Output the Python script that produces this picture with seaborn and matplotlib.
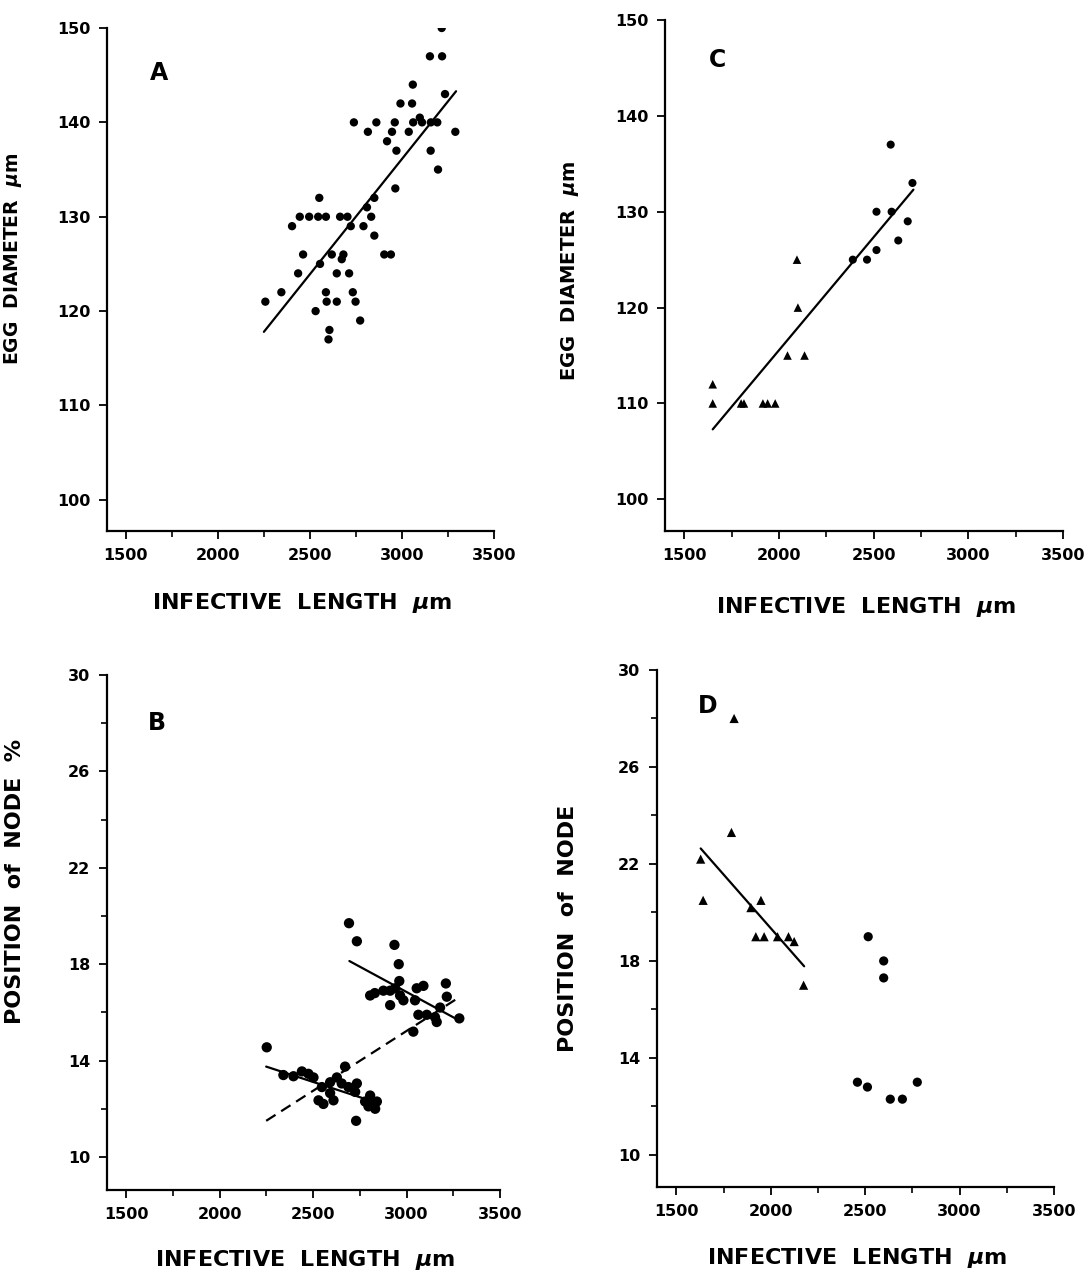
import matplotlib
matplotlib.use("Agg")
import matplotlib.pyplot as plt
from matplotlib.ticker import MultipleLocator, FixedLocator
import seaborn as sns

# Panel A - egg diameter vs infective length (circles)
a_length = [3216, 3152, 3218, 3059, 2992, 3055, 3234, 2739, 2861, 2961, 3061,
            3097, 3109, 3157, 3192, 2815, 2946, 3037, 3290, 2919, 2970, 3156,
            3196, 2964, 2850, 2810, 2833, 2551, 2445, 2496, 2545, 2587, 2664,
            2704, 2403, 2722, 2791, 2850, 2463, 2619, 2682, 2673, 2904, 2940,
            2555, 2436, 2646, 2713, 2345, 2587, 2733, 2258, 2591, 2646, 2748,
            2531, 2773, 2606, 2601]
a_egg = [150, 147, 147, 144, 142, 142, 143, 140, 140, 140, 140,
         140.5, 140, 140, 140, 139, 139, 139, 139, 138, 137, 137,
         135, 133, 132, 131, 130, 132, 130, 130, 130, 130, 130,
         130, 129, 129, 129, 128, 126, 126, 126, 125.5, 126, 126,
         125, 124, 124, 124, 122, 122, 122, 121, 121, 121, 121,
         120, 119, 118, 117]
a_fit_x = [2250, 3294]
a_fit_y = [117.8, 143.3]

# Panel B - position of node vs infective length
b_upper_x = [2692, 2734, 2935, 2958, 2961, 3210, 2805, 2830, 2876, 2912, 2939,
             2965, 2983, 2912, 3054, 3090, 3045, 3063, 3108, 3152, 3161, 3179,
             3215, 3282, 3036]
b_upper_y = [19.7, 18.95, 18.8, 18.0, 17.3, 17.2, 16.7, 16.8, 16.9, 16.9, 17.0,
             16.7, 16.5, 16.3, 17.0, 17.1, 16.5, 15.9, 15.9, 15.8, 15.6, 16.2,
             16.65, 15.75, 15.2]
b_lower_x = [2252, 2671, 2341, 2395, 2440, 2475, 2502, 2547, 2591, 2627, 2653,
             2689, 2734, 2725, 2529, 2555, 2609, 2591, 2805, 2778, 2814, 2841,
             2832, 2796, 2730]
b_lower_y = [14.55, 13.75, 13.4, 13.35, 13.55, 13.45, 13.3, 12.9, 13.1, 13.3, 13.05,
             12.9, 13.05, 12.7, 12.35, 12.2, 12.35, 12.65, 12.55, 12.3, 12.2, 12.3,
             12.0, 12.1, 11.5]
b_fit_upper_x = [2694, 3282]
b_fit_upper_y = [18.13, 15.66]
b_fit_lower_x = [2249, 2849]
b_fit_lower_y = [13.75, 12.23]
b_fit_all_x = [2249, 3286]
b_fit_all_y = [11.5, 16.65]

# Panel C - egg diameter, triangles and circles
c_tri_x = [1650, 1650, 1800, 1815, 1915, 1940, 1980, 2095, 2100, 2045, 2135]
c_tri_y = [112, 110, 110, 110, 110, 110, 110, 125, 120, 115, 115]
c_dot_x = [2390, 2465, 2515, 2515, 2595, 2590, 2630, 2680, 2705]
c_dot_y = [125, 125, 126, 130, 130, 137, 127, 129, 133]
c_fit_x = [1650, 2710]
c_fit_y = [107.3, 132.3]

# Panel D - position of node, triangles and circles
d_tri_x = [1806, 1792, 1629, 1642, 1948, 1895, 1921, 1965, 2036, 2094, 2124, 2174]
d_tri_y = [28, 23.3, 22.2, 20.5, 20.5, 20.2, 19, 19, 19, 19, 18.8, 17]
d_dot_x = [2516, 2598, 2598, 2459, 2512, 2633, 2697, 2776]
d_dot_y = [19, 18, 17.3, 13, 12.8, 12.3, 12.3, 13]
d_fit_x = [1629, 2177]
d_fit_y = [22.64, 17.78]

egg_ticks = [100, 110, 120, 130, 140, 150]
node_ticks = [10, 14, 18, 22, 26, 30]
node_minor = [12, 16, 20, 24, 28]

sns.set_theme(style="ticks")
plt.rcParams['font.family'] = ['DejaVu Sans']
plt.rcParams['font.weight'] = 'bold'
plt.rcParams['axes.labelweight'] = 'bold'
plt.rcParams['text.color'] = 'black'
plt.rcParams['axes.labelcolor'] = 'black'
plt.rcParams['xtick.color'] = 'black'
plt.rcParams['ytick.color'] = 'black'
plt.rcParams['mathtext.fontset'] = 'custom'
plt.rcParams['mathtext.it'] = 'DejaVu Sans:italic:bold'
plt.rcParams['mathtext.rm'] = 'DejaVu Sans:bold'

fig = plt.figure(figsize=(10.9, 12.73), dpi=100)
axA = fig.add_axes([0.0982, 0.5829, 0.3550, 0.3951])
axC = fig.add_axes([0.6101, 0.5829, 0.3651, 0.4014])
axB = fig.add_axes([0.0982, 0.0652, 0.3606, 0.4046])
axD = fig.add_axes([0.6028, 0.0676, 0.3642, 0.4061])


def style_axis(ax, ylim, ymajor, yminor, ylabel, ylab_size, ylab_pos, xlab_y):
    ax.set_xlim(1398, 3500)
    ax.set_ylim(*ylim)
    ax.xaxis.set_major_locator(MultipleLocator(500))
    ax.xaxis.set_minor_locator(MultipleLocator(250))
    ax.yaxis.set_major_locator(FixedLocator(ymajor))
    if yminor:
        ax.yaxis.set_minor_locator(FixedLocator(yminor))
    sns.despine(ax=ax)
    for side in ['left', 'bottom']:
        ax.spines[side].set_linewidth(1.6)
        ax.spines[side].set_color('black')
    ax.tick_params(which='major', direction='out', length=6, width=1.3,
                   labelsize=11.5, color='black', labelcolor='black', pad=6)
    ax.tick_params(which='minor', direction='out', length=4, width=1.2, color='black')
    for lab in ax.get_xticklabels() + ax.get_yticklabels():
        lab.set_fontweight('bold')
    ax.set_xlabel('INFECTIVE  LENGTH  $\\mu$m', fontsize=16, fontweight='bold',
                  color='black')
    ax.set_ylabel(ylabel, fontsize=ylab_size, fontweight='bold', color='black')
    ax.xaxis.set_label_coords(0.505, xlab_y)
    ax.yaxis.set_label_coords(*ylab_pos)


# A
sns.scatterplot(x=a_length, y=a_egg, marker='o', s=36, color='black',
                edgecolor='none', ax=axA, legend=False)
sns.lineplot(x=a_fit_x, y=a_fit_y, color='black', linewidth=1.6, ax=axA)
style_axis(axA, (96.7, 150), egg_ticks, None, 'EGG  DIAMETER  $\\mu$m', 13.5,
           (-0.215, 0.54), -0.12)
axA.text(1680, 145.2, 'A', fontsize=17, fontweight='bold', ha='center', va='center')

# C
sns.scatterplot(x=c_tri_x, y=c_tri_y, marker='^', s=38, color='black',
                edgecolor='none', ax=axC, legend=False)
sns.scatterplot(x=c_dot_x, y=c_dot_y, marker='o', s=34, color='black',
                edgecolor='none', ax=axC, legend=False)
sns.lineplot(x=c_fit_x, y=c_fit_y, color='black', linewidth=1.6, ax=axC)
style_axis(axC, (96.7, 150), egg_ticks, None, 'EGG  DIAMETER  $\\mu$m', 14,
           (-0.211, 0.51), -0.125)
axC.text(1674, 145.8, 'C', fontsize=17, fontweight='bold', ha='center', va='center')

# B
sns.scatterplot(x=b_upper_x, y=b_upper_y, marker='o', s=55, color='black',
                edgecolor='none', ax=axB, legend=False)
sns.scatterplot(x=b_lower_x, y=b_lower_y, marker='o', s=55, color='black',
                edgecolor='none', ax=axB, legend=False)
sns.lineplot(x=b_fit_upper_x, y=b_fit_upper_y, color='black', linewidth=1.6, ax=axB)
sns.lineplot(x=b_fit_lower_x, y=b_fit_lower_y, color='black', linewidth=1.6, ax=axB)
sns.lineplot(x=b_fit_all_x, y=b_fit_all_y, color='black', linewidth=1.6,
             linestyle=(0, (5, 3)), ax=axB)
style_axis(axB, (8.63, 30), node_ticks, node_minor, 'POSITION  of  NODE  %', 16,
           (-0.209, 0.60), -0.112)
axB.text(1666, 28.0, 'B', fontsize=17, fontweight='bold', ha='center', va='center')

# D
sns.scatterplot(x=d_tri_x, y=d_tri_y, marker='^', s=44, color='black',
                edgecolor='none', ax=axD, legend=False)
sns.scatterplot(x=d_dot_x, y=d_dot_y, marker='o', s=44, color='black',
                edgecolor='none', ax=axD, legend=False)
sns.lineplot(x=d_fit_x, y=d_fit_y, color='black', linewidth=1.6, ax=axD)
style_axis(axD, (8.68, 30), node_ticks, node_minor, 'POSITION  of  NODE', 16,
           (-0.199, 0.50), -0.115)
axD.text(1664, 28.5, 'D', fontsize=17, fontweight='bold', ha='center', va='center')

fig.savefig('out.png', dpi=100)
